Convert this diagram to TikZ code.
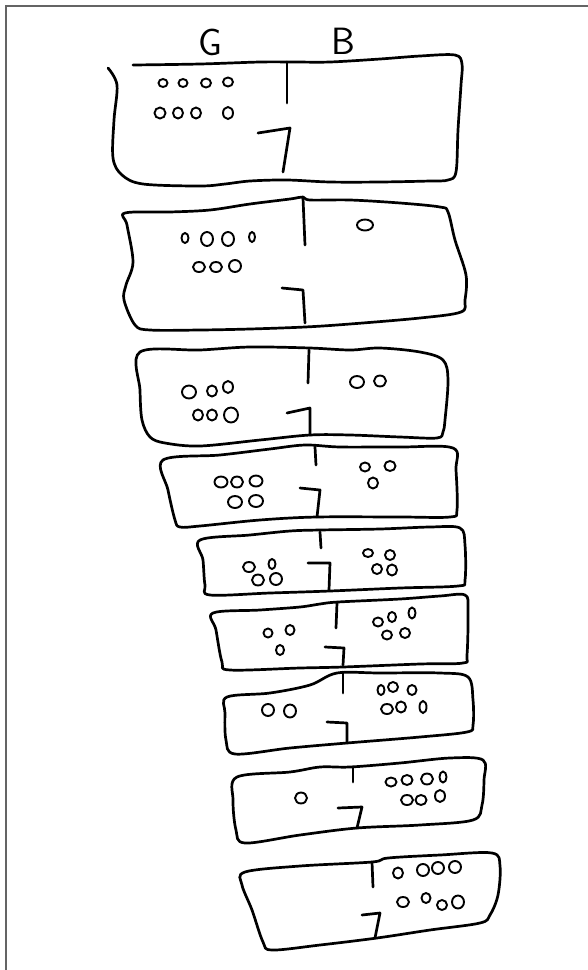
\documentclass[tikz,border=0pt]{standalone}
\begin{document}
\begin{tikzpicture}[x=1pt,y=-1pt,
  ink/.style={line width=2.7pt, line cap=round, line join=round, black},
  blob/.style={line width=1.9pt, black},
  framel/.style={line width=2pt, color={rgb,255:red,100;green,100;blue,100}},
  lbl/.style={font=\sffamily\fontsize{38}{38}\selectfont, inner sep=0pt}]
\useasboundingbox (0,0) rectangle (588,970);
\newcommand{\cc}[4]{\draw[blob] (#1,#2) ellipse [x radius=#3pt, y radius=#4pt];}
% frame
\draw[framel] (5.5,975) -- (5.5,6) -- (595,6);
% labels
\node[lbl] (G) at (210,42) {G};
\node[lbl] (B) at (343,41) {B};

% ---------- box 1 ----------
\draw[ink] plot[smooth, tension=0.55] coordinates {(108,68) (117,85) (114,120) (113,158) (122,175) (143,184) (200,186) (225,184) (250,181) (287,180) (330,182) (380,182) (430,181) (448,180) (456,172) (458,130) (461,85) (462,64) (455,55) (420,56) (380,59) (330,62) (295,62) (260,62) (200,64) (133,65)};
\draw[ink] (287,62) -- (287,103);
\draw[ink] (258,133) -- (290,128) -- (283,172);
\cc{163}{83}{4.5}{4}\cc{183}{83}{4.5}{4}\cc{206}{83}{5}{4.5}\cc{228}{82}{5}{4.5}
\cc{160}{113}{5.5}{5.5}\cc{178}{113}{5}{5.5}\cc{196}{113}{5}{5.5}\cc{228}{113}{5}{6}

% ---------- box 2 ----------
\draw[ink] plot[smooth cycle, tension=0.55] coordinates {(125,213) (170,212) (210,210) (250,204) (290,199) (303,197) (310,200) (350,200) (400,203) (440,207) (448,212) (455,240) (466,275) (465,300) (461,312) (420,318) (350,324) (305,327) (250,329) (200,330) (150,330) (135,325) (124,300) (126,285) (133,262) (127,225)};
\draw[ink] (303,198) -- (305,245);
\draw[ink] (282,288) -- (303,290) -- (305,323);
\cc{185}{238}{3.5}{5}\cc{207}{239}{6}{7}\cc{228}{239}{6}{7}\cc{252}{237}{3}{5}
\cc{199}{267}{6}{5}\cc{216}{267}{6}{5}\cc{235}{266}{6}{6}
\cc{365}{225}{8}{5.5}

% ---------- box 3 ----------
\draw[ink] plot[smooth cycle, tension=0.55] coordinates {(140,352) (200,350) (250,347) (310,348) (350,350) (380,348) (420,352) (443,360) (448,380) (445,420) (443,432) (437,438) (400,437) (350,435) (310,435) (260,440) (200,446) (165,443) (150,437) (142,420) (140,390)};
\draw[ink] (309,350) -- (308,383);
\draw[ink] (287,413) -- (310,408) -- (310,435);
\cc{189}{392}{7}{6.5}\cc{212}{391}{5}{5.5}\cc{228}{387}{5}{6}
\cc{198}{415}{5}{5.5}\cc{212}{415}{5}{5.5}\cc{231}{415}{7}{7.5}
\cc{357}{382}{7}{6}\cc{380}{381}{6}{5.5}

% ---------- box 4 ----------
\draw[ink] plot[smooth cycle, tension=0.55] coordinates {(163,460) (220,455) (270,449) (305,445) (340,447) (400,447) (453,448) (456,470) (457,510) (450,517) (400,517) (317,517) (260,520) (200,526) (180,527) (175,520) (168,490)};
\draw[ink] (315,447) -- (316,465);
\draw[ink] (300,488) -- (320,490) -- (317,517);
\cc{221}{482}{6.5}{5.5}\cc{237}{482}{6}{5.5}\cc{256}{481}{6.5}{5.5}
\cc{235}{502}{7}{6}\cc{256}{501}{7}{6}
\cc{365}{467}{5}{4.5}\cc{390}{466}{5.5}{5}\cc{373}{483}{5}{5.5}

% ---------- box 5 ----------
\draw[ink] plot[smooth cycle, tension=0.55] coordinates {(200,540) (250,535) (290,531) (320,530) (380,529) (430,527) (460,528) (465,545) (465,580) (458,586) (400,588) (330,591) (270,593) (210,595) (205,585) (203,560)};
\draw[ink] (320,532) -- (321,548);
\draw[ink] (308,563) -- (330,563) -- (329,590);
\cc{249}{567}{6}{5}\cc{272}{564}{3.5}{5}
\cc{258}{580}{6}{5.5}\cc{276}{579}{6}{6}
\cc{368}{553}{5}{4}\cc{390}{555}{5}{5}\cc{377}{569}{5}{5}\cc{392}{570}{5}{5.5}

% ---------- box 6 ----------
\draw[ink] plot[smooth cycle, tension=0.55] coordinates {(213,613) (260,610) (300,607) (320,604) (338,602) (400,599) (440,596) (465,595) (468,610) (467,655) (463,663) (420,664) (343,667) (300,668) (230,670) (222,662) (216,630)};
\draw[ink] (337,603) -- (336,628);
\draw[ink] (325,647) -- (344,648) -- (343,665);
\cc{268}{633}{4.5}{4.5}\cc{290}{630}{4.5}{5}\cc{280}{650}{4}{5}
\cc{378}{622}{5}{4.5}\cc{392}{617}{4}{5}\cc{412}{613}{3.5}{5.5}
\cc{387}{635}{5}{4.5}\cc{405}{633}{5}{5}

% ---------- box 7 ----------
\draw[ink] plot[smooth cycle, tension=0.55] coordinates {(227,697) (270,693) (310,685) (337,673) (380,673) (440,673) (468,677) (473,700) (473,725) (467,732) (420,737) (347,743) (290,748) (235,754) (226,740) (225,713)};
\draw[ink] (343,672) -- (343,693);
\draw[ink] (327,722) -- (347,723) -- (347,743);
\cc{268}{710}{6}{6}\cc{290}{711}{6}{6.5}
\cc{381}{690}{3.5}{5}\cc{393}{687}{5}{5}\cc{412}{690}{4.5}{5}
\cc{387}{709}{6}{5}\cc{401}{707}{5}{5.5}\cc{423}{707}{3.5}{6}

% ---------- box 8 ----------
\draw[ink] plot[smooth cycle, tension=0.55] coordinates {(237,777) (290,772) (320,767) (350,767) (400,763) (450,758) (483,760) (484,780) (482,805) (473,820) (420,825) (357,828) (300,835) (245,843) (236,830) (233,800)};
\draw[ink] (353,767) -- (353,782);
\draw[ink] (338,808) -- (362,807) -- (357,828);
\cc{301}{798}{6}{5.5}
\cc{391}{782}{5.5}{4.5}\cc{407}{780}{5.5}{5}\cc{427}{779}{6}{5.5}\cc{443}{777}{3.5}{5.5}
\cc{407}{800}{6}{5}\cc{421}{800}{5.5}{5}\cc{440}{796}{5}{6}

% ---------- box 9 ----------
\draw[ink] plot[smooth cycle, tension=0.55] coordinates {(245,872) (300,866) (372,862) (388,858) (440,855) (492,853) (500,866) (498,895) (490,915) (480,923) (430,930) (377,938) (320,945) (272,950) (263,942) (252,910) (242,885)};
\draw[ink] (372,862) -- (373,887);
\draw[ink] (362,915) -- (380,913) -- (375,938);
\cc{398}{873}{5}{5.5}\cc{423}{870}{6}{6}\cc{438}{868}{6}{6}\cc{455}{867}{6}{6}
\cc{403}{902}{6}{5}\cc{426}{898}{4.5}{5}\cc{442}{905}{5}{5}\cc{458}{902}{6}{6.5}
\end{tikzpicture}
\end{document}
